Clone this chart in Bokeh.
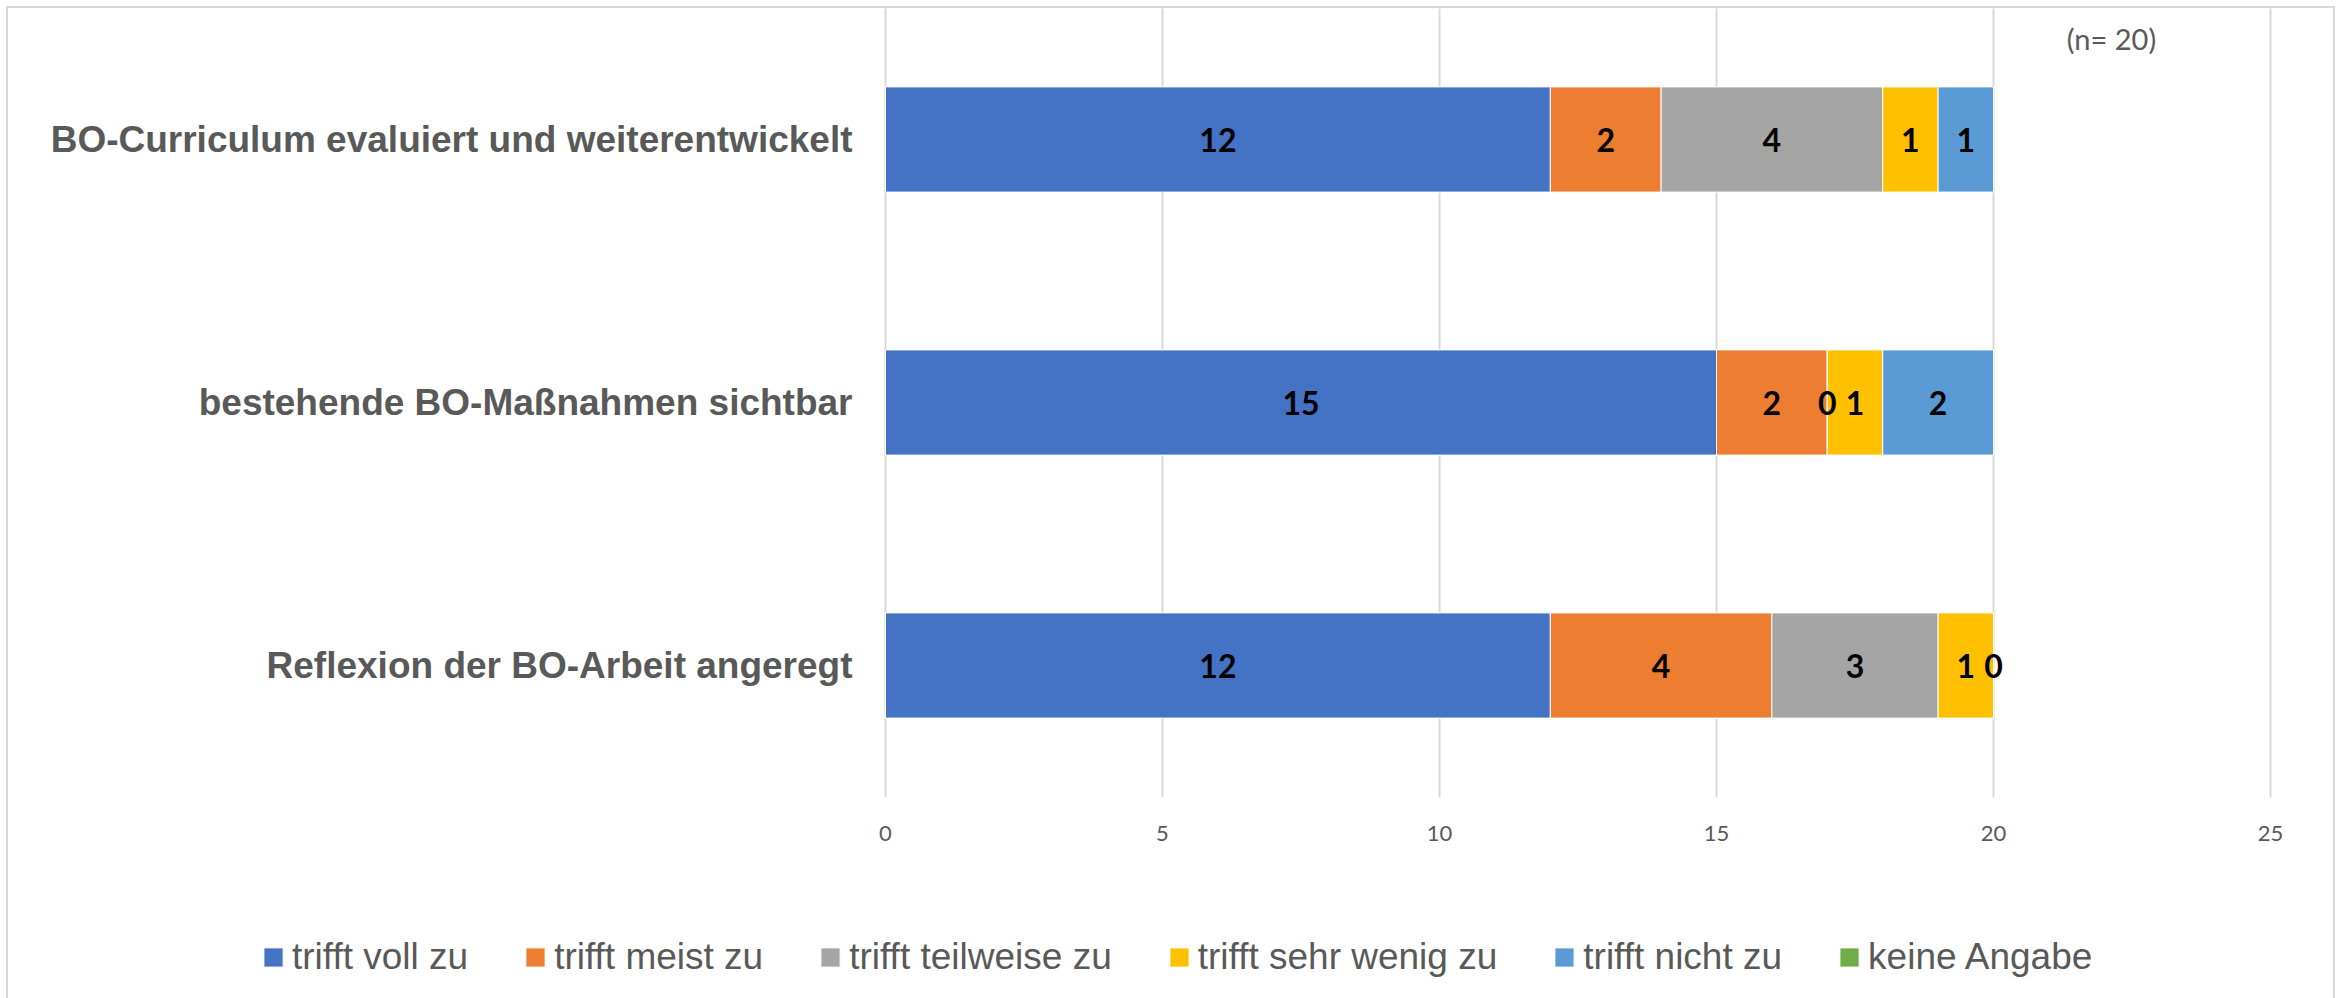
import numpy as np
from bokeh.plotting import figure
from bokeh.models import ColumnDataSource, Range1d, Label, Legend, LegendItem, FixedTicker
from bokeh.core.properties import value
from bokeh.embed import file_html
from bokeh.resources import INLINE

# ---- data ----
categories = ["BO-Curriculum evaluiert und weiterentwickelt",
              "bestehende BO-Maßnahmen sichtbar",
              "Reflexion der BO-Arbeit angeregt"]
series_names = ["trifft voll zu", "trifft meist zu", "trifft teilweise zu",
                "trifft sehr wenig zu", "trifft nicht zu", "keine Angabe"]
voll = [12, 15, 12]
meist = [2, 2, 4]
teilweise = [4, 0, 3]
sehr_wenig = [1, 1, 1]
nicht = [1, 2, 0]
keine = [np.nan, np.nan, np.nan]
series_values = [voll, meist, teilweise, sehr_wenig, nicht, keine]
colors = ["#4472C4", "#ED7D31", "#A5A5A5", "#FFC000", "#5B9BD5", "#70AD47"]
x_ticks = [0, 5, 10, 15, 20, 25]
note = "(n= 20)"

GRAY = "#595959"
BORDER = "#d9d9d9"
n = len(categories)
ypos = [n - i - 0.5 for i in range(n)]   # category slots, top to bottom

# frame spans the whole canvas; data area is x 0..25, y 0..n
W, H = 2341, 998
px_per_x = 1385 / 25.0
px_per_y = 263.0
x0_px, ytop_px = 885.0, 7.5
x_range = Range1d(-x0_px / px_per_x, (W - x0_px) / px_per_x)
y_range = Range1d(n - (H - ytop_px) / px_per_y, n + ytop_px / px_per_y)

p = figure(x_range=x_range, y_range=y_range,
           frame_width=W, frame_height=H, min_border=0,
           output_backend="svg", toolbar_location=None, title=None)
g = f"linear-gradient({BORDER},{BORDER})"
p.styles = {"background": (f"{g} left 6px top 6px / 2px 100% no-repeat, "
                           f"{g} left 6px top 6px / calc(100% - 12px) 2px no-repeat, "
                           f"{g} right 6px top 6px / 2px 100% no-repeat, white")}
p.outline_line_color = None
p.background_fill_alpha = 0
p.border_fill_alpha = 0

left = np.zeros(n)
items = []
label_sources = []
for name, vals, col, idx in zip(series_names, series_values, colors, range(6)):
    v = np.array(vals, dtype=float)
    right = left + np.nan_to_num(v)
    src = ColumnDataSource(dict(y=ypos, left=left.copy(), right=right.copy(),
                                mid=(left + right) / 2,
                                lab=["" if np.isnan(a) else str(int(a)) for a in v]))
    r = p.hbar(y="y", left="left", right="right", height=0.4, source=src,
               fill_color=col, line_color="white", line_width=1)
    items.append(LegendItem(label=name, renderers=[r]))
    if idx < 5:
        label_sources.append(src)
    left = right

for src in label_sources:
    p.text(x="mid", y="y", text="lab", source=src,
           text_align="center", text_baseline="middle",
           text_font=value("Lato"), text_font_style="bold",
           text_font_size="32px", text_color="black")

# x axis (placed at the bottom of the data area)
p.xaxis.ticker = FixedTicker(ticks=x_ticks)
p.xaxis.fixed_location = 0
p.xaxis.axis_line_color = None
p.xaxis.major_tick_line_color = None
p.xaxis.minor_tick_line_color = None
p.xaxis.major_label_text_font = "Lato"
p.xaxis.major_label_text_font_size = "22px"
p.xaxis.major_label_text_color = GRAY
p.xaxis.major_label_standoff = 23

# y axis with category names
p.yaxis.ticker = FixedTicker(ticks=ypos)
p.yaxis.major_label_overrides = {y: c for y, c in zip(ypos, categories)}
p.yaxis.fixed_location = 0
p.yaxis.axis_line_color = None
p.yaxis.major_tick_line_color = None
p.yaxis.minor_tick_line_color = None
p.yaxis.major_tick_out = 0
p.yaxis.major_label_text_font = "Liberation Sans"
p.yaxis.major_label_text_font_style = "bold"
p.yaxis.major_label_text_font_size = "37px"
p.yaxis.major_label_text_color = GRAY
p.yaxis.major_label_standoff = 33

p.ygrid.grid_line_color = None
p.xgrid.grid_line_color = BORDER
p.xgrid.grid_line_width = 2
try:
    p.xgrid.cross_bounds = (0, n)
except Exception:
    p.xgrid.visible = False
    p.segment(x0=x_ticks, y0=[0] * len(x_ticks), x1=x_ticks, y1=[n] * len(x_ticks),
              line_color=BORDER, line_width=2, level="underlay")

p.add_layout(Label(x=22.13, y=n - (38 - ytop_px) / px_per_y, text=note, text_font="Lato",
                   text_font_size="29px", text_color=GRAY,
                   text_align="center", text_baseline="middle"))

legend = Legend(items=items, orientation="horizontal",
                location=(261, 20),
                glyph_width=24, glyph_height=24, label_standoff=7, spacing=55,
                padding=0, margin=0, border_line_color=None,
                background_fill_alpha=0,
                label_text_font="Liberation Sans", label_text_font_size="37px",
                label_text_color=GRAY)
p.add_layout(legend, "center")

open("out.html", "w").write(file_html(p, INLINE))
